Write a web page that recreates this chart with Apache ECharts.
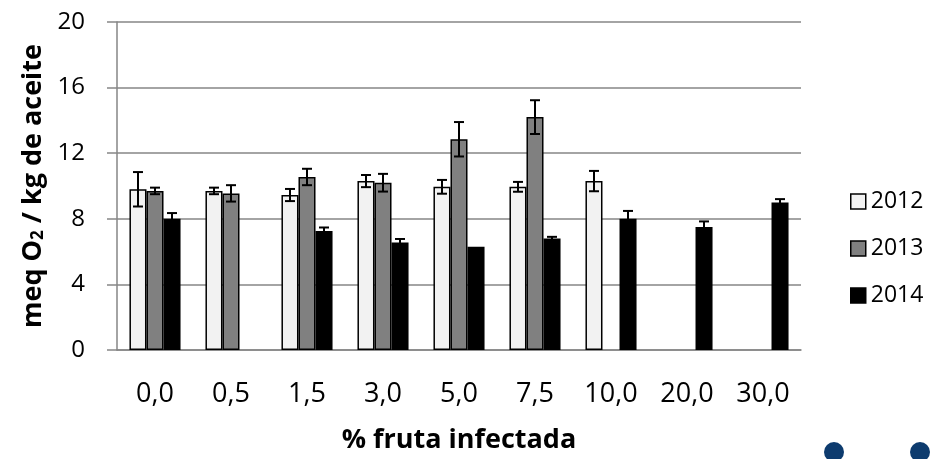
<!DOCTYPE html>
<html>
<head>
<meta charset="utf-8">
<script src="https://cdn.jsdelivr.net/npm/echarts@6/dist/echarts.min.js"></script>
<style>
html,body{margin:0;padding:0;background:#fff;}
#chart{width:930px;height:459px;}
</style>
</head>
<body>
<div id="chart"></div>
<script>
// ---- data ----
var categories = ['0,0', '0,5', '1,5', '3,0', '5,0', '7,5', '10,0', '20,0', '30,0'];
var years = ['2012', '2013', '2014'];
var values2012 = [9.8, 9.7, 9.45, 10.3, 9.95, 9.95, 10.3, null, null];
var errors2012 = [1.05, 0.2, 0.37, 0.37, 0.42, 0.3, 0.62, null, null];
var values2013 = [9.7, 9.55, 10.55, 10.2, 12.85, 14.2, null, null, null];
var errors2013 = [0.2, 0.5, 0.5, 0.54, 1.05, 1.03, null, null, null];
var values2014 = [8.0, null, 7.25, 6.55, 6.3, 6.8, 8.0, 7.5, 9.0];
var errors2014 = [0.35, null, 0.22, 0.22, null, 0.1, 0.48, 0.34, 0.2];
var yTicks = [0, 4, 8, 12, 16, 20];

var FONT = '"Open Sans", "Liberation Sans", sans-serif';
var colors = ['#f2f2f2', '#808080', '#000000'];
var BAR_FRAC = 0.224;
var allValues = [values2012, values2013, values2014];
var allErrors = [errors2012, errors2013, errors2014];

var chart = echarts.init(document.getElementById('chart'), null, {renderer: 'canvas'});

var series = [];
years.forEach(function (y, k) {
  series.push({
    name: y,
    type: 'bar',
    data: allValues[k],
    barWidth: (BAR_FRAC * 100) + '%',
    barGap: '0%',
    itemStyle: {color: colors[k], borderColor: '#000', borderWidth: 1.5},
    z: 2
  });
});
years.forEach(function (y, k) {
  var d = [];
  allValues[k].forEach(function (v, i) {
    var e = allErrors[k][i];
    if (v != null && e != null) d.push([i, v, e]);
  });
  series.push({
    name: 'err' + y,
    type: 'custom',
    z: 5,
    silent: true,
    encode: {x: 0, y: 1},
    data: d,
    renderItem: function (params, api) {
      var i = api.value(0), v = api.value(1), e = api.value(2);
      var catW = api.size([1, 0])[0];
      var off = (k - 1) * catW * BAR_FRAC;
      var top = api.coord([i, v + e]);
      var bot = api.coord([i, v - e]);
      var x = top[0] + off;
      var cap = 5;
      var st = {stroke: '#000', lineWidth: 2};
      return {
        type: 'group',
        children: [
          {type: 'line', shape: {x1: x, y1: top[1], x2: x, y2: bot[1]}, style: st},
          {type: 'line', shape: {x1: x - cap, y1: top[1], x2: x + cap, y2: top[1]}, style: st},
          {type: 'line', shape: {x1: x - cap, y1: bot[1], x2: x + cap, y2: bot[1]}, style: st}
        ]
      };
    }
  });
});

chart.setOption({
  animation: false,
  backgroundColor: '#fff',
  grid: {left: 117, right: 129, top: 22, bottom: 103, containLabel: false},
  legend: {
    data: years,
    orient: 'vertical',
    left: 845,
    top: 185,
    itemWidth: 15,
    itemHeight: 15,
    itemGap: 24,
    icon: 'rect',
    textStyle: {fontFamily: FONT, fontSize: 23, color: '#000', padding: [0, 0, 0, 0]},
    itemStyle: {borderColor: '#000', borderWidth: 1.5}
  },
  xAxis: {
    type: 'category',
    data: categories,
    axisLine: {lineStyle: {color: '#868686', width: 1.5}},
    axisTick: {show: false},
    axisLabel: {fontFamily: FONT, fontSize: 27, color: '#000', margin: 31},
    name: '% fruta infectada',
    nameLocation: 'middle',
    nameGap: 77,
    nameTextStyle: {fontFamily: FONT, fontSize: 27, fontWeight: 'bold', color: '#000'}
  },
  yAxis: {
    type: 'value',
    min: yTicks[0],
    max: yTicks[yTicks.length - 1],
    interval: yTicks[1] - yTicks[0],
    axisLine: {show: true, lineStyle: {color: '#868686', width: 1.5}},
    axisTick: {show: true, length: 10, lineStyle: {color: '#868686', width: 1.5}},
    splitLine: {lineStyle: {color: '#868686', width: 1.5}},
    axisLabel: {fontFamily: FONT, fontSize: 24, color: '#000', margin: 32},
    name: 'meq O{s|2} / kg de aceite',
    nameLocation: 'middle',
    nameGap: 66,
    nameTextStyle: {
      fontFamily: FONT, fontSize: 27, fontWeight: 'bold', color: '#000',
      rich: {s: {fontFamily: FONT, fontSize: 17, fontWeight: 'bold', color: '#000', verticalAlign: 'bottom', padding: [10, 0, 0, 0]}}
    }
  },
  graphic: [
    {type: 'circle', shape: {cx: 834, cy: 452, r: 10}, style: {fill: '#0d3b6e'}, silent: true},
    {type: 'circle', shape: {cx: 920, cy: 452, r: 10}, style: {fill: '#0d3b6e'}, silent: true}
  ],
  series: series
});
</script>
</body>
</html>
